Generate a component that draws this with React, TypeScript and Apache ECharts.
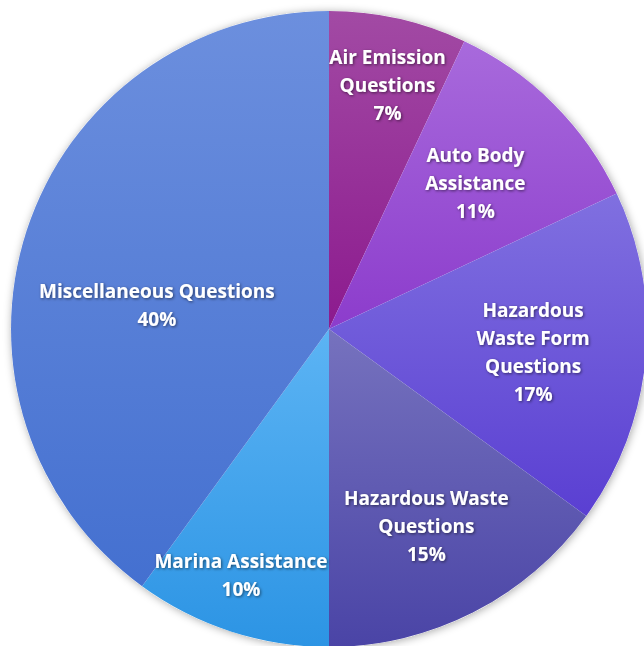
import React, { useEffect, useRef } from "react";
import * as echarts from "echarts";

const categories = [
  "Air Emission\nQuestions",
  "Auto Body\nAssistance",
  "Hazardous\nWaste Form\nQuestions",
  "Hazardous Waste\nQuestions",
  "Marina Assistance",
  "Miscellaneous Questions",
];
const values = [7, 11, 17, 15, 10, 40];

const gradientTops = ["#a24aa4", "#a86adc", "#8070e0", "#7672be", "#5cb4f4", "#6c8fde"];
const gradientBottoms = ["#8c1a8e", "#8c3ccc", "#5a3fd2", "#4a44a6", "#2c94e4", "#4470d0"];
const labelRadius = [250, 207, 205, 221, 259, 181];
const labelShift: [number, number][] = [[4, 0], [0, 0], [0, 4], [-3, 0], [-8, 0], [0, 32]];

const CENTER = [329, 329];
const R = 318;

export default function App() {
  const ref = useRef<HTMLDivElement>(null);
  useEffect(() => {
    document.body.style.margin = "0";
    document.body.style.overflow = "hidden";
    const chart = echarts.init(ref.current!, undefined, { renderer: "svg" });
    const data = categories.map((name, i) => ({
      name,
      value: values[i],
      itemStyle: {
        color: new echarts.graphic.LinearGradient(0, 0, 0, 1, [
          { offset: 0, color: gradientTops[i] },
          { offset: 1, color: gradientBottoms[i] },
        ]),
      },
    }));
    const labelSeries = categories.map((_, idx) => ({
      type: "pie",
      silent: true,
      center: CENTER,
      radius: [0, 2 * (labelRadius[idx] - 3)],
      startAngle: 90,
      clockwise: true,
      z: 10,
      labelLine: { show: false },
      labelLayout: { dx: labelShift[idx][0], dy: labelShift[idx][1] },
      itemStyle: { color: "transparent" },
      data: categories.map((name, i) => ({
        name,
        value: values[i],
        label: {
          show: i === idx,
          position: "inside",
          formatter: "{b}\n{d}%",
          color: "#ffffff",
          fontFamily: "Open Sans",
          fontWeight: "bold",
          fontSize: 19,
          lineHeight: 28,
          textShadowColor: "rgba(0,0,0,0.55)",
          textShadowBlur: 3,
          textShadowOffsetX: 1,
          textShadowOffsetY: 1,
        },
      })),
    }));
    chart.setOption({
      animation: false,
      series: [
        {
          type: "pie",
          silent: true,
          center: CENTER,
          radius: [0, R],
          z: 1,
          label: { show: false },
          labelLine: { show: false },
          itemStyle: {
            color: "#ffffff",
            shadowBlur: 8,
            shadowColor: "rgba(0,0,0,0.35)",
            shadowOffsetX: 1,
            shadowOffsetY: 1,
          },
          data: [{ name: "bg", value: 1 }],
        },
        {
          type: "pie",
          center: CENTER,
          radius: [0, R],
          startAngle: 90,
          clockwise: true,
          z: 2,
          label: { show: false },
          labelLine: { show: false },
          data,
        },
        ...labelSeries,
      ],
    });
    return () => chart.dispose();
  }, []);
  return <div ref={ref} style={{ width: 644, height: 646 }} />;
}
